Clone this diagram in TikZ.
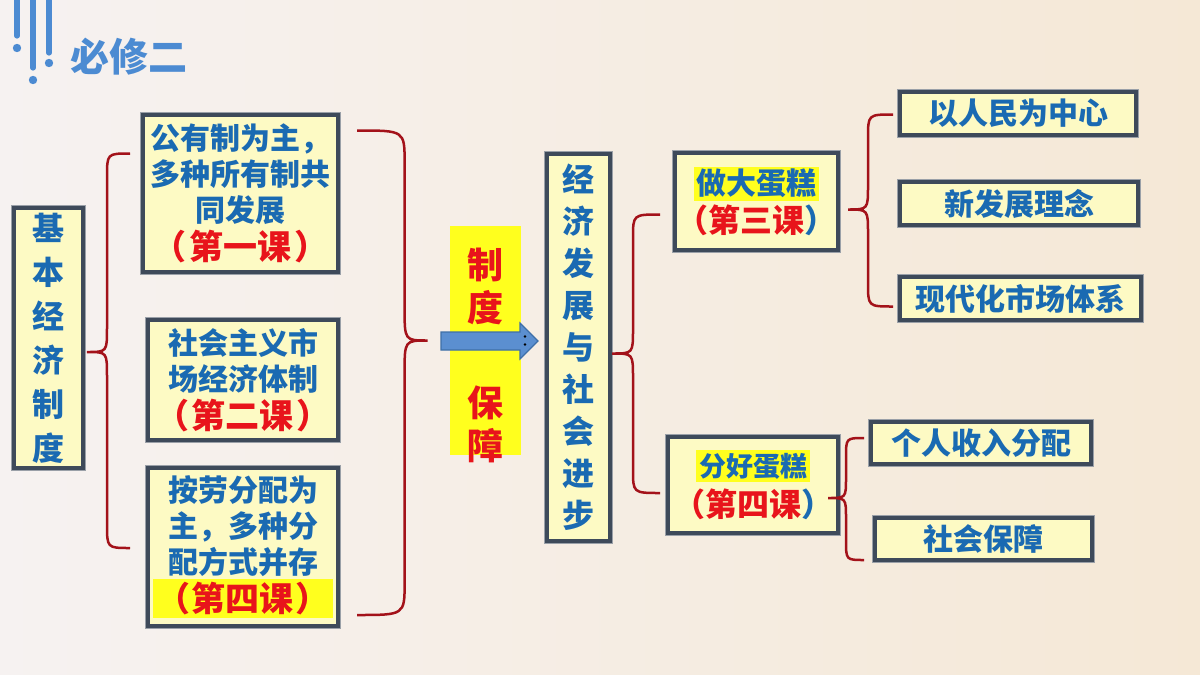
\documentclass[tikz,border=0pt]{standalone}
\usepackage{fontspec}
\setmainfont{Noto Sans CJK SC}
\usetikzlibrary{calc}
\definecolor{tblue}{HTML}{1A6AB2}
\definecolor{tred}{HTML}{E8141B}
\definecolor{brc}{HTML}{A3121A}
\definecolor{bfill}{HTML}{FDFAC4}
\definecolor{bdark}{HTML}{3E4A5A}
\definecolor{brim}{HTML}{9AA0A8}
\definecolor{hl}{HTML}{FFFF1E}
\definecolor{deco}{HTML}{4C8BD2}
\definecolor{bgl}{HTML}{F6F2F1}
\definecolor{bgr}{HTML}{F5E8D6}
\definecolor{arrf}{HTML}{5B8FD0}
\definecolor{arrd}{HTML}{3E6FA8}
\newcommand{\lesson}[2][17pt]{{\fontsize{#1}{18pt}\selectfont\color{tred}#2}}
% tip, top end, bottom end, offset of the vertical part, radius
\newcommand{\bbrace}[5]{%
 \draw[brace] let \p1=#1, \p2=#2, \p3=#3 in
 (\p2) .. controls (\x1+#4,\y2) .. (\x1+#4,\y2-#5) -- (\x1+#4,\y1+#5)
 .. controls (\x1+#4,\y1) .. (\p1) .. controls (\x1+#4,\y1) .. (\x1+#4,\y1-#5)
 -- (\x1+#4,\y3+#5) .. controls (\x1+#4,\y3) .. (\p3);}
\begin{document}
\begin{tikzpicture}[x=0.5pt,y=-0.5pt,
 box/.style={draw=bdark, line width=2pt, fill=bfill, inner sep=0pt,
   preaction={draw=brim, line width=3.4pt}, text=tblue, align=center,
   font=\bfseries\fontsize{15pt}{18pt}\selectfont},
 brace/.style={draw=brc, line width=1.25pt},
 decoline/.style={draw=deco, line width=2.6pt, line cap=round},
 red/.style={text=tred, font=\bfseries\fontsize{18pt}{21.5pt}\selectfont, align=center, inner sep=0pt}]
\useasboundingbox (0,0) rectangle (1200,675);
\shade[left color=bgl, right color=bgr] (0,0) rectangle (1200,675);

% top-left decoration and title
\draw[decoline] (17,-5) -- (17,36);
\draw[decoline] (33,-5) -- (33,68);
\draw[decoline] (49,-5) -- (49,53);
\fill[deco] (17,48) circle (2.1pt) (33,80) circle (2.1pt) (49,63) circle (2.1pt);
\node[text=deco, font=\bfseries\fontsize{19.5pt}{22pt}\selectfont, inner sep=0pt] (title) at (129,57) {必修二};

% left part
\node[box, minimum width=34.5pt, minimum height=130pt, font=\bfseries\fontsize{16pt}{22pt}\selectfont] (L) at (48.5,338) {基\\本\\经\\济\\制\\度};
\node[box, minimum width=97.5pt, minimum height=78.5pt] (A) at (240.5,193.5) {公有制为主，\\多种所有制共\\同发展\\[1pt]\lesson{（\kern1.5pt第一课\kern1.5pt）}};
\node[box, minimum width=95pt, minimum height=60pt] (B) at (243,380) {社会主义市\\场经济体制\\[1pt]\lesson{（\kern1.5pt第二课\kern1.5pt）}};
\node[box, minimum width=95pt, minimum height=79pt] (C) at (243,547) {按劳分配为\\主，多种分\\配方式并存\\[1pt]{\setlength{\fboxsep}{1.5pt}\colorbox{hl}{\lesson{（\kern1pt第四课\kern1pt）}}}};

% centre
\node[fill=hl, minimum width=35.5pt, minimum height=114.5pt, inner sep=0pt] (Y) at (485.5,340.5) {};
\node[red] (zd) at (485,286) {制\\度};
\node[red] (bz) at (485,424) {保\\障};
\node[box, minimum width=31.5pt, minimum height=193.5pt, font=\bfseries\fontsize{16pt}{21pt}\selectfont] (M) at (578.5,347.5) {经\\济\\发\\展\\与\\社\\会\\进\\步};
\draw[fill=arrf, draw=arrd, line width=0.6pt] (441,332) -- (520,332) -- (520,323) -- (538,341) -- (520,359) -- (520,350) -- (441,350) -- cycle;
\fill (525,336.5) circle (0.7pt) (525,344.5) circle (0.7pt);

% right part
\node[box, minimum width=81.5pt, minimum height=48.5pt] (D) at (756.5,201.5) {{\setlength{\fboxsep}{1.2pt}\colorbox{hl}{做大蛋糕}}\\[1pt]\lesson[16pt]{（第三课}{\fontsize{16pt}{18pt}\selectfont ）}};
\node[box, minimum width=85pt, minimum height=48pt] (H) at (753,485) {{\fontsize{13.5pt}{16pt}\selectfont\setlength{\fboxsep}{1.5pt}\colorbox{hl}{分好蛋糕}}\\[2pt]\lesson[16pt]{（第四课}{\fontsize{16pt}{18pt}\selectfont ）}};
\node[box, minimum width=118pt, minimum height=21.5pt] (E) at (1018,113.5) {以人民为中心};
\node[box, minimum width=119pt, minimum height=21.5pt] (F) at (1019,203.5) {新发展理念};
\node[box, minimum width=120.5pt, minimum height=21.5pt] (G) at (1020.5,298.5) {现代化市场体系};
\node[box, minimum width=110pt, minimum height=21pt] (I) at (981,443) {个人收入分配};
\node[box, minimum width=108.5pt, minimum height=21pt] (J) at (983.5,539) {社会保障};

% braces
\coordinate (t1) at ($(L.east)+(2,14)$);
\coordinate (a1) at ($(A.west)+(-11,-40)$);
\coordinate (c1) at ($(C.west)+(-16,1)$);
\bbrace{(t1)}{(a1)}{(c1)}{10pt}{12pt}

\coordinate (t2) at ($(Y.west)+(-22,0)$);
\coordinate (a2) at ($(A.east)+(17,-63)$);
\coordinate (c2) at ($(C.east)+(17,68)$);
\bbrace{(t2)}{(a2)}{(c2)}{-11.5pt}{16pt}

\coordinate (t3) at ($(M.east)+(0,6)$);
\coordinate (d3) at ($(D.west)+(-13,13)$);
\coordinate (h3) at ($(H.west)+(-6,8)$);
\bbrace{(t3)}{(d3)}{(h3)}{10.5pt}{12pt}

\coordinate (t4) at ($(D.east)+(8,8)$);
\coordinate (e4) at ($(E.west)+(-5,1)$);
\coordinate (g4) at ($(G.west)+(-5,8)$);
\bbrace{(t4)}{(e4)}{(g4)}{10pt}{12pt}

\coordinate (t5) at ($(H.east)+(-12,13)$);
\coordinate (i5) at ($(I.west)+(-5,-5)$);
\coordinate (j5) at ($(J.west)+(-9,21)$);
\bbrace{(t5)}{(i5)}{(j5)}{9pt}{10pt}
\end{tikzpicture}
\end{document}
